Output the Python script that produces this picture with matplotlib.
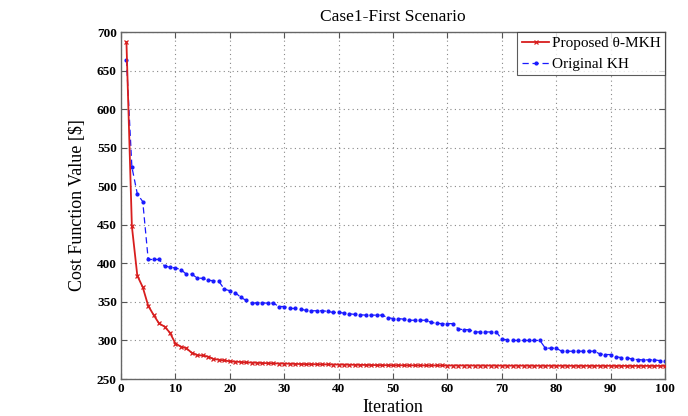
import matplotlib
matplotlib.use("Agg")
import matplotlib.pyplot as plt

plt.rcParams['font.family'] = ['Liberation Serif', 'DejaVu Serif']
plt.rcParams['mathtext.fontset'] = 'stix'

iterations = list(range(1, 101))

proposed = [
    687, 448, 384, 369, 345, 333, 322, 318, 310, 296,
    292, 290, 284, 281, 280.5, 279, 276, 275, 274, 273,
    272.5, 272, 271.5, 271.3, 271, 270.7, 270.5, 270.3, 270.1, 270,
    269.8, 269.6, 269.4, 269.3, 269.2, 269.1, 269, 268.9, 268.8, 268.7,
    268.6, 268.5, 268.4, 268.3, 268.2, 268.1, 268, 268, 267.9, 267.8,
    267.8, 267.8, 267.7, 267.7, 267.7, 267.6, 267.6, 267.6, 267.6, 267.5,
    267.5, 267.5, 267.5, 267.5, 267.4, 267.4, 267.4, 267.4, 267.4, 267.3,
    267.3, 267.3, 267.3, 267.3, 267.3, 267.2, 267.2, 267.2, 267.2, 267.2,
    267.2, 267.2, 267.1, 267.1, 267.1, 267.1, 267.1, 267.1, 267.1, 267.1,
    267.0, 267.0, 267.0, 267.0, 267.0, 267.0, 267.0, 267.0, 267.0, 267.0,
]

original = [
    664, 525, 490, 480, 405, 405, 405, 396.5, 395, 394,
    392, 386, 386, 381, 380.5, 378, 377.5, 376.5, 366.5, 364.5,
    362, 356, 352, 348.5, 348.5, 348.5, 348.5, 348.5, 344, 344,
    341.5, 341.5, 340.7, 339, 338.5, 338.5, 338.5, 337.7, 336.3, 336.3,
    335.5, 334.6, 333.7, 333.3, 332.8, 332.8, 332.8, 332.8, 329.7, 328.4,
    328.4, 327.5, 326.2, 326.2, 326.2, 326.2, 323.5, 322.2, 321.8, 321.8,
    321.8, 314.8, 314, 314, 311, 311, 311, 311, 311, 301.7,
    300.9, 300, 300, 300, 300, 300, 300, 290, 290, 290,
    286, 286, 286, 286, 286, 286, 286, 282.6, 281.7, 281.7,
    278.7, 277.8, 277.8, 275.6, 275.2, 274.8, 274.8, 274.8, 273.9, 273.5,
]

x_ticks = [0, 10, 20, 30, 40, 50, 60, 70, 80, 90, 100]
y_ticks = [250, 300, 350, 400, 450, 500, 550, 600, 650, 700]

fig = plt.figure(figsize=(6.88, 4.16), dpi=100)
ax = fig.add_axes([121/688, 1 - 379/416, (665-121)/688, (379-32)/416])

ax.plot(iterations, proposed, color='#d81e1e', linestyle='-', linewidth=1.3,
        marker='x', markersize=3, markeredgewidth=0.9, label='Proposed θ-MKH', zorder=3)
ax.plot(iterations, original, color='#1a1aff', linestyle='--', linewidth=0.9,
        dashes=(5, 3), marker='.', markersize=4, label='Original KH', zorder=2)

ax.set_xlim(0, 100)
ax.set_ylim(250, 700)
ax.set_xticks(x_ticks)
ax.set_yticks(y_ticks)
ax.tick_params(direction='in', top=True, right=True, length=4, width=0.8,
               labelsize=9.5, color='#555555', pad=3)
for lab in ax.get_xticklabels() + ax.get_yticklabels():
    lab.set_fontweight('bold')
for sp in ax.spines.values():
    sp.set_color('#666666')
    sp.set_linewidth(1.0)
ax.grid(True, linestyle=(0, (1, 3)), color='#888888', linewidth=0.8)

ax.set_title('Case1-First Scenario', fontsize=12.5, pad=8)
ax.set_xlabel('Iteration', fontsize=13, labelpad=3)
ax.set_ylabel('Cost Function Value [$]', fontsize=13, labelpad=8)

leg = ax.legend(loc='upper right', borderaxespad=0, fontsize=11, frameon=True,
                fancybox=False, edgecolor='#333333', handlelength=1.8,
                handletextpad=0.15, borderpad=0.3, labelspacing=0.45)
leg.get_frame().set_linewidth(0.8)

fig.savefig('out.png', dpi=100)
